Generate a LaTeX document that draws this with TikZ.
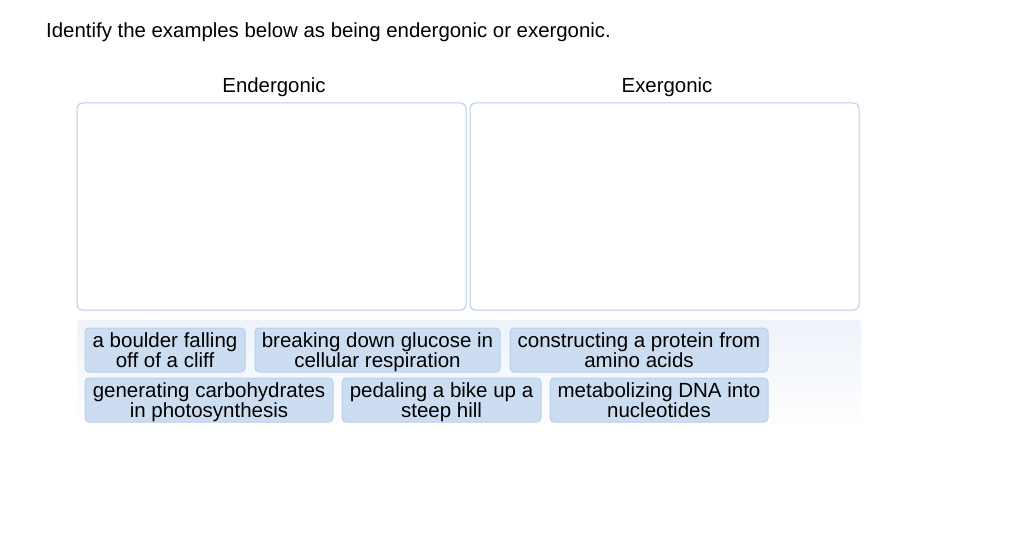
\documentclass[tikz,border=0pt]{standalone}
\usepackage{fontspec}
\setmainfont{Liberation Sans}
\definecolor{chipfill}{HTML}{CCDDF1}
\definecolor{chipdraw}{HTML}{B8CFEC}
\definecolor{boxdraw}{HTML}{B5CBE6}
\definecolor{tray}{HTML}{EEF3FA}
\begin{document}
\begin{tikzpicture}[x=1pt,y=-1pt,
  chiptext/.style={anchor=base,inner sep=0pt,font=\fontsize{20.5}{24}\selectfont},
  dropbox/.style={draw=boxdraw,rounded corners=5pt,line width=1pt}]
\useasboundingbox (0,0) rectangle (1024,556);
\node[anchor=base west,font=\fontsize{20.4}{24}\selectfont,inner sep=0pt] (title) at (46,38) {Identify the examples below as being endergonic or exergonic.};
\node[anchor=base,inner sep=0pt,font=\fontsize{20.4}{24}\selectfont] (h1) at (274,93) {Endergonic};
\node[anchor=base,inner sep=0pt,font=\fontsize{20.4}{24}\selectfont] (h2) at (667,93) {Exergonic};
\draw[dropbox] (77,103) rectangle (466,310);
\draw[dropbox] (470,103) rectangle (859,310);
\shade[top color=tray,bottom color=white,rounded corners=3pt] (77,320) rectangle (861,432);
\newcommand{\chipat}[7]{\draw[draw=chipdraw,fill=chipfill,rounded corners=4pt,line width=1pt] (#1,#2) rectangle (#3,#4);
  \node[chiptext] (#5a) at ({(#1+#3)/2},#2+19) {#6};
  \node[chiptext] (#5b) at ({(#1+#3)/2},#2+39) {#7};}
\chipat{85}{328}{245}{372}{c1}{a boulder falling}{off of a cliff}
\chipat{255}{328}{500}{372}{c2}{breaking down glucose in}{cellular respiration}
\chipat{510}{328}{768}{372}{c3}{constructing a protein from}{amino acids}
\chipat{85}{378}{333}{422}{c4}{generating carbohydrates}{in photosynthesis}
\chipat{342}{378}{541}{422}{c5}{pedaling a bike up a}{steep hill}
\chipat{550}{378}{768}{422}{c6}{metabolizing DNA into}{nucleotides}
\end{tikzpicture}
\end{document}
